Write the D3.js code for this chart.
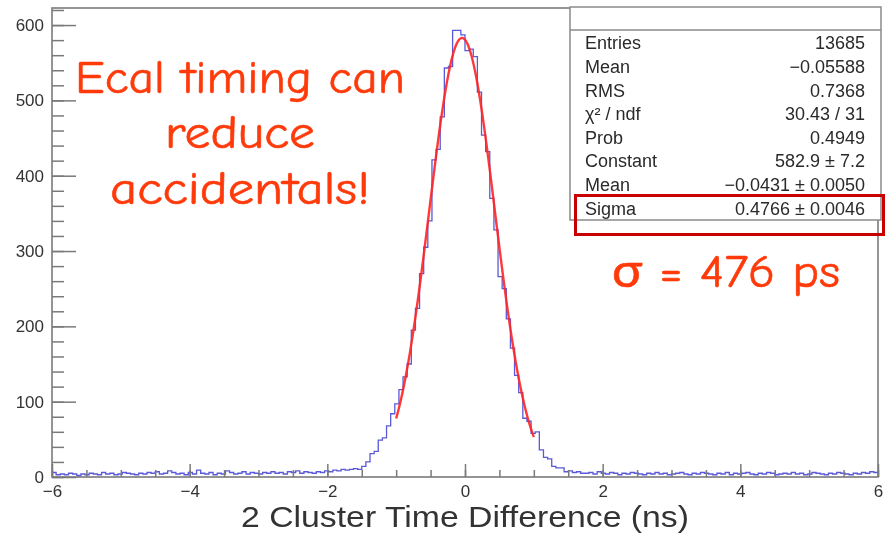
<!DOCTYPE html>
<html>
<head>
<meta charset="utf-8">
<script src="https://cdn.jsdelivr.net/npm/d3@7"></script>
<style>
  html, body { margin: 0; padding: 0; background: #fff; }
  svg { display: block; }
</style>
</head>
<body>
<svg id="chart" width="891" height="534"></svg>
<script>
// Histogram: 200 bins from -6 to 6 ns
const binRange = [-6, 6];
const binCounts = [
  6, 3, 4, 3, 5, 4, 2, 4, 3, 5, 4, 3, 6, 4, 5, 3, 4, 6, 5, 4,
  3, 5, 4, 6, 5, 7, 4, 5, 8, 6, 4, 5, 3, 6, 4, 9, 5, 4, 6, 3,
  5, 4, 8, 6, 4, 5, 7, 4, 6, 5, 4, 6, 5, 7, 5, 6, 4, 7, 6, 8,
  5, 7,
  6, 5, 7, 6, 8, 7, 9, 8, 10, 9, 10, 11, 10, 14, 20, 31, 34, 49,
  52, 68, 84, 97, 116, 133, 150, 195, 224, 270, 305, 340, 421, 435, 478, 543,
  545, 593, 593, 587, 566, 568, 558, 511, 454, 432, 370, 328, 266, 250, 210, 171,
  135, 112, 78, 74, 58, 60, 36, 26, 24, 14, 12, 12, 7, 8, 6, 7, 5,
  5, 6, 4, 7, 5, 4, 6, 5, 3, 5, 4, 6, 5, 4, 3, 5, 4, 6, 4, 5,
  3, 4, 5, 6, 4, 3, 5, 4, 6, 5, 4, 3, 5, 4, 6, 3, 5, 4, 5, 6,
  4, 3, 5, 4, 6, 5, 3, 4, 5, 4, 6, 4, 5, 3, 4, 6, 5, 4, 3, 5,
  4, 6, 5, 4, 3, 5, 4, 6, 5, 7, 6
];

// Gaussian fit result, fitted over [-1, 1]
const fitRange = [-1, 1];
const fitConstant = 582.9;
const fitMean = -0.0431;
const fitSigma = 0.4766;

// Stats box rows
const statLabels = ["Entries", "Mean", "RMS", "\u03c7\u00b2 / ndf", "Prob", "Constant", "Mean", "Sigma"];
const statValues = ["13685", "\u22120.05588", "0.7368", "30.43 / 31", "0.4949",
                    "582.9 \u00b1 7.2", "\u22120.0431 \u00b1 0.0050", "0.4766 \u00b1 0.0046"];

const xMajorTicks = [-6, -4, -2, 0, 2, 4, 6];
const yMajorTicks = [0, 100, 200, 300, 400, 500, 600];

const svg = d3.select("#chart");
const frame = { left: 52, right: 878, top: 8, bottom: 477 };
const axisColor = "#7a7a7a";
const textFont = "'Liberation Sans', Arial, Helvetica, sans-serif";
const noteFont = "'Comic Sans MS', 'Comic Neue', Lato, sans-serif";
const noteColor = "#ff3a0a";

const nBins = binCounts.length;
const binWidth = (binRange[1] - binRange[0]) / nBins;

const x = d3.scaleLinear().domain(binRange).range([frame.left, frame.right]);
const y = d3.scaleLinear().domain([0, d3.max(binCounts) * 1.05]).range([frame.bottom, frame.top]);

const plot = svg.append("g").attr("class", "plot").style("filter", "blur(0.4px)");

// frame
plot.append("rect")
  .attr("x", frame.left).attr("y", frame.top)
  .attr("width", frame.right - frame.left).attr("height", frame.bottom - frame.top)
  .attr("fill", "none").attr("stroke", axisColor).attr("stroke-width", 1.6);

// histogram outline
const histPoints = binCounts.map((c, i) => [binRange[0] + i * binWidth, c]);
histPoints.push([binRange[1], binCounts[nBins - 1]]);
plot.append("path")
  .datum(histPoints)
  .attr("fill", "none")
  .attr("stroke", "#5a5ad8")
  .attr("stroke-width", 1.3)
  .attr("d", d3.line().x(d => x(d[0])).y(d => y(d[1])).curve(d3.curveStepAfter));

// fit curve
const fitPoints = d3.range(fitRange[0], fitRange[1] + 1e-9, 0.01).map(t =>
  [t, fitConstant * Math.exp(-0.5 * Math.pow((t - fitMean) / fitSigma, 2))]);
plot.append("path")
  .datum(fitPoints)
  .attr("fill", "none")
  .attr("stroke", "#ff2424")
  .attr("stroke-width", 2.4)
  .attr("stroke-opacity", 0.9)
  .attr("d", d3.line().x(d => x(d[0])).y(d => y(d[1])).curve(d3.curveMonotoneX));

// x axis: major + minor ticks pointing up into the frame
function styleAxis(g) {
  g.select(".domain").remove();
  g.selectAll(".tick line").attr("stroke", axisColor).attr("stroke-width", 1.5);
  g.selectAll(".tick text")
    .attr("fill", "#333")
    .style("font-family", textFont)
    .style("font-size", "17px");
}

plot.append("g")
  .attr("transform", `translate(0,${frame.bottom})`)
  .call(d3.axisBottom(x).tickValues(d3.range(-6, 6.01, 0.5)).tickSize(-7).tickFormat(""))
  .call(styleAxis);

plot.append("g")
  .attr("transform", `translate(0,${frame.bottom})`)
  .call(d3.axisBottom(x).tickValues(xMajorTicks).tickSize(-13).tickPadding(8).tickFormat(d3.format("d")))
  .call(styleAxis);

// y axis
plot.append("g")
  .attr("transform", `translate(${frame.left},0)`)
  .call(d3.axisLeft(y).tickValues(d3.range(0, 621, 20)).tickSize(-12).tickFormat(""))
  .call(styleAxis);

plot.append("g")
  .attr("transform", `translate(${frame.left},0)`)
  .call(d3.axisLeft(y).tickValues(yMajorTicks).tickSize(-24).tickPadding(8).tickFormat(d3.format("d")))
  .call(styleAxis);

// axis title
plot.append("text")
  .attr("x", x(0))
  .attr("y", 527)
  .attr("text-anchor", "middle")
  .attr("fill", "#333")
  .style("font-family", textFont)
  .style("font-size", "30px")
  .attr("textLength", 448)
  .attr("lengthAdjust", "spacingAndGlyphs")
  .text("2 Cluster Time Difference (ns)");

// stats box
const box = { x: 570, y: 7, w: 311, h: 213, head: 23 };
const stats = svg.append("g").attr("class", "stats").style("filter", "blur(0.4px)");
stats.append("rect")
  .attr("x", box.x).attr("y", box.y).attr("width", box.w).attr("height", box.h)
  .attr("fill", "#fff").attr("stroke", "#8a8a8a").attr("stroke-width", 1.5);
stats.append("line")
  .attr("x1", box.x).attr("x2", box.x + box.w)
  .attr("y1", box.y + box.head).attr("y2", box.y + box.head)
  .attr("stroke", "#8a8a8a").attr("stroke-width", 1.5);

const rowY = d3.scaleBand().domain(d3.range(statLabels.length)).range([31, 220]);
stats.selectAll("text.lbl")
  .data(statLabels)
  .join("text")
  .attr("class", "lbl")
  .attr("x", 585)
  .attr("y", (d, i) => rowY(i) + rowY.bandwidth() / 2)
  .attr("dy", "0.36em")
  .attr("fill", "#2a2a2a")
  .style("font-family", textFont)
  .style("font-size", "18px")
  .text(d => d);

stats.selectAll("text.val")
  .data(statValues)
  .join("text")
  .attr("class", "val")
  .attr("x", 865)
  .attr("y", (d, i) => rowY(i) + rowY.bandwidth() / 2)
  .attr("dy", "0.36em")
  .attr("text-anchor", "end")
  .attr("fill", "#2a2a2a")
  .style("font-family", textFont)
  .style("font-size", "18px")
  .text(d => d);

// highlight around the sigma row
svg.append("rect")
  .attr("x", 575.5).attr("y", 195.5).attr("width", 308).attr("height", 39)
  .attr("fill", "none").attr("stroke", "#c80000").attr("stroke-width", 3);

// annotations
const note = [
  { text: "Ecal timing can", y: 93, w: 330 },
  { text: "reduce", y: 148, w: 150 },
  { text: "accidentals!", y: 204, w: 260 }
];
svg.selectAll("text.note")
  .data(note)
  .join("text")
  .attr("class", "note")
  .attr("x", 240)
  .attr("y", d => d.y)
  .attr("text-anchor", "middle")
  .attr("fill", noteColor)
  .attr("stroke", noteColor)
  .attr("stroke-width", 0.6)
  .style("font-family", noteFont)
  .style("font-size", "47px")
  .attr("textLength", d => d.w)
  .attr("lengthAdjust", "spacingAndGlyphs")
  .text(d => d.text);

svg.append("text")
  .attr("x", 726)
  .attr("y", 287)
  .attr("text-anchor", "middle")
  .attr("fill", noteColor)
  .attr("stroke", noteColor)
  .attr("stroke-width", 0.6)
  .style("font-family", noteFont)
  .style("font-size", "46px")
  .attr("textLength", 228)
  .attr("lengthAdjust", "spacingAndGlyphs")
  .text("\u03c3 = 476 ps");
</script>
</body>
</html>
